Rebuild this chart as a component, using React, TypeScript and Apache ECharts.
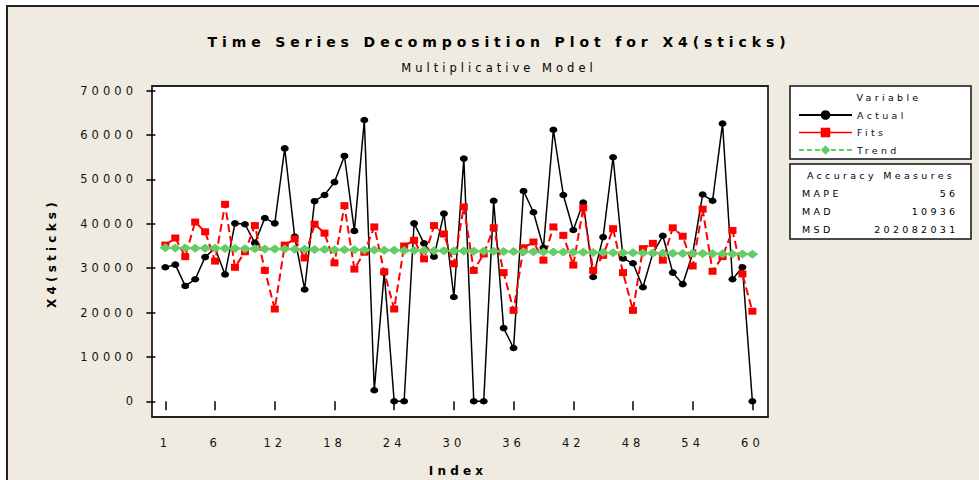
import React, { useEffect, useRef } from "react";
import * as echarts from "echarts";

const actual = [
  30200, 30800, 26000, 27500, 32500, 34500, 28600, 40100, 39900, 35700,
  41300, 40100, 57000, 37100, 25200, 45100, 46500, 49400, 55300, 38400,
  63400, 2500, 29000, 0, 0, 40100, 35600, 32600, 42300, 23500,
  54700, 0, 0, 45200, 16500, 12000, 47400, 42600, 34600, 61200,
  46500, 38600, 44800, 28000, 37000, 55000, 32200, 31100, 25700, 33400,
  37300, 29000, 26400, 33300, 46600, 45200, 62600, 27500, 30200, 0,
];

const fits = [
  35200, 36800, 32600, 40400, 38200, 31600, 44400, 30200, 33700, 39600,
  29500, 20800, 35200, 36600, 32300, 39900, 37900, 31200, 44100, 29800,
  33600, 39300, 29200, 20800, 35000, 36300, 32100, 39600, 37700, 31000,
  43800, 29500, 33200, 39100, 29000, 20500, 34600, 35900, 31800, 39300,
  37400, 30700, 43600, 29500, 32900, 38900, 29000, 20500, 34400, 35600,
  31800, 39100, 37200, 30500, 43300, 29300, 32600, 38500, 28700, 20300,
];

const trend = [
  34590, 34566, 34542, 34518, 34493, 34469, 34445, 34421, 34397, 34372,
  34348, 34324, 34300, 34276, 34251, 34227, 34203, 34179, 34155, 34130,
  34106, 34082, 34058, 34034, 34009, 33985, 33961, 33937, 33913, 33888,
  33864, 33840, 33816, 33792, 33767, 33743, 33719, 33695, 33671, 33646,
  33622, 33598, 33574, 33550, 33525, 33501, 33477, 33453, 33429, 33404,
  33380, 33356, 33332, 33308, 33283, 33259, 33235, 33211, 33187, 33162,
];

const xTicks = [1, 6, 12, 18, 24, 30, 36, 42, 48, 54, 60];
const yTicks = [0, 10000, 20000, 30000, 40000, 50000, 60000, 70000];
const seriesNames = ["Actual", "Fits", "Trend"];
const accuracyLabels = ["MAPE", "MAD", "MSD"];
const accuracyValues = ["56", "10936", "202082031"];

const FONT = "'DejaVu Sans', Verdana, sans-serif";

export default function App() {
  const ref = useRef<HTMLDivElement>(null);

  useEffect(() => {
    document.body.style.margin = "0";
    const chart = echarts.init(ref.current!, null, { renderer: "svg" });
    const idx = actual.map((_, i) => i + 1);
    const pairs = (arr: number[]) => arr.map((v, i) => [idx[i], v]);

    const txt = (
      text: string,
      x: number,
      y: number,
      size: number,
      align: string,
      bold = false,
      extra: any = {}
    ) => ({
      type: "text",
      x,
      y,
      z: 10,
      silent: true,
      ...extra,
      style: {
        text,
        fontSize: size,
        fontFamily: FONT,
        fontWeight: bold ? "bold" : "normal",
        fill: "#000",
        align,
        textAlign: align,
        verticalAlign: "middle",
        textVerticalAlign: "middle",
      },
    });

    const graphics: any[] = [
      {
        type: "rect",
        z: -10,
        silent: true,
        shape: { x: 7, y: 6, width: 1000, height: 500 },
        style: { fill: "#EFEBE1", stroke: "#222", lineWidth: 2 },
      },
      {
        type: "rect",
        z: 1,
        silent: true,
        shape: { x: 790, y: 86, width: 181, height: 73 },
        style: { fill: "#fff", stroke: "#111", lineWidth: 1.5 },
      },
      {
        type: "rect",
        z: 1,
        silent: true,
        shape: { x: 790, y: 164, width: 181, height: 75 },
        style: { fill: "#fff", stroke: "#111", lineWidth: 1.5 },
      },
      txt("Time Series Decomposition Plot for X4(sticks)", 499, 42, 14, "center", true),
      txt("Multiplicative Model", 499, 68, 11.5, "center"),
      txt("Index", 458, 471, 12, "center", true),
      txt("X4(sticks)", 52, 253, 12, "center", true, { rotation: Math.PI / 2 }),
      txt("Variable", 889, 97.5, 9.5, "center"),
      txt("Accuracy Measures", 881, 175, 9.5, "center"),
    ];
    accuracyLabels.forEach((lab, i) => {
      graphics.push(txt(lab, 802, 193.3 + i * 18.3, 9.5, "left"));
      graphics.push(txt(accuracyValues[i], 958.5, 193.3 + i * 18.3, 9.5, "right"));
    });

    chart.setOption({
      animation: false,
      backgroundColor: "#fff",
      textStyle: { fontFamily: FONT },
      grid: {
        show: true,
        left: 152,
        top: 86,
        width: 616,
        height: 331,
        backgroundColor: "#fff",
        borderColor: "#222",
        borderWidth: 1.8,
        z: 0,
      },
      xAxis: {
        type: "value",
        min: -0.34,
        max: 61.57,
        axisLine: { show: false },
        splitLine: { show: false },
        axisTick: {
          show: true,
          customValues: xTicks,
          length: 9,
          lineStyle: { color: "#000", width: 1.5 },
        },
        axisLabel: {
          customValues: xTicks,
          margin: 20,
          fontSize: 11.5,
          color: "#111",
          fontFamily: FONT,
          formatter: (v: number) => String(v),
        },
      },
      yAxis: {
        type: "value",
        min: -3540,
        max: 71060,
        axisLine: { show: false },
        splitLine: { show: false },
        axisTick: {
          show: true,
          customValues: yTicks,
          length: 9,
          lineStyle: { color: "#000", width: 1.5 },
        },
        axisLabel: {
          customValues: yTicks,
          margin: 15,
          fontSize: 11.5,
          color: "#111",
          fontFamily: FONT,
          formatter: (v: number) => String(v),
        },
      },
      legend: {
        orient: "vertical",
        left: 798,
        top: 109,
        padding: 0,
        itemWidth: 53,
        itemHeight: 12,
        itemGap: 5.5,
        selectedMode: false,
        textStyle: { fontSize: 9.5, lineHeight: 12, color: "#111", fontFamily: FONT },
        data: [
          { name: seriesNames[0] },
          { name: seriesNames[1], lineStyle: { type: "solid", width: 1.5 } },
          { name: seriesNames[2] },
        ],
        z: 5,
      },
      graphic: { elements: graphics },
      series: [
        {
          name: seriesNames[0],
          type: "line",
          data: pairs(actual),
          symbol: "circle",
          symbolSize: [8, 6.5],
          itemStyle: { color: "#000" },
          lineStyle: { color: "#000", width: 1.5 },
          silent: true,
          emphasis: { disabled: true },
        },
        {
          name: seriesNames[1],
          type: "line",
          data: pairs(fits),
          symbol: "rect",
          symbolSize: [8, 7],
          itemStyle: { color: "#FF0000" },
          lineStyle: { color: "#FF0000", width: 2, type: [8, 4] },
          silent: true,
          emphasis: { disabled: true },
        },
        {
          name: seriesNames[2],
          type: "line",
          data: pairs(trend),
          symbol: "diamond",
          symbolSize: [12, 9],
          itemStyle: { color: "#66CC66" },
          lineStyle: { color: "#66CC66", width: 1, type: [5, 3] },
          silent: true,
          emphasis: { disabled: true },
        },
      ],
    });

    return () => chart.dispose();
  }, []);

  return (
    <>
      <style>{`#chart svg text { letter-spacing: 0.35em; }`}</style>
      <div id="chart" ref={ref} style={{ width: 979, height: 480 }} />
    </>
  );
}
